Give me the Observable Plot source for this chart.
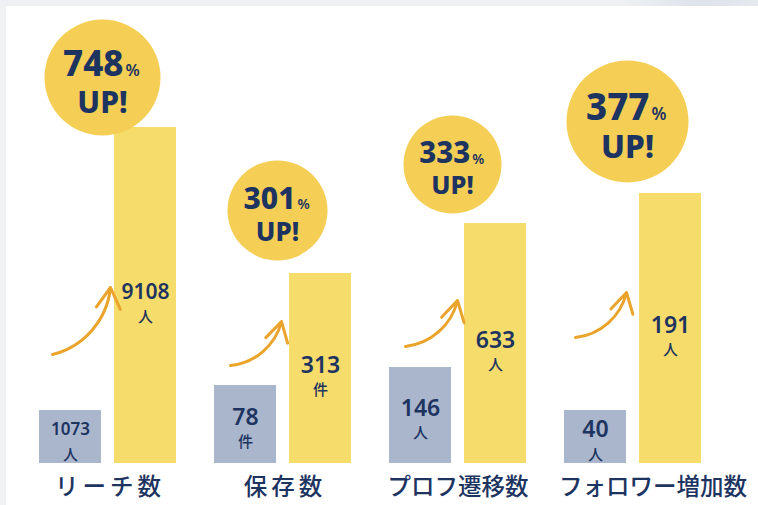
<!DOCTYPE html>
<html>
<head>
<meta charset="utf-8">
<script src="https://cdn.jsdelivr.net/npm/d3@7"></script>
<script src="https://cdn.jsdelivr.net/npm/@observablehq/plot@0.6"></script>
<style>
  html, body { margin: 0; padding: 0; background: #ffffff; }
  #wrap {
    position: relative; width: 758px; height: 505px; overflow: hidden;
    background:
      linear-gradient(to right, #eef0f3 0px, #eef0f3 620px, #dfe3ea 700px, #e6e9ee 758px) top left / 758px 6px no-repeat,
      linear-gradient(#f1f2f4, #f1f2f4) top left / 6px 505px no-repeat,
      #ffffff;
  }
  #wrap svg { display: block; }
</style>
</head>
<body>
<div id="wrap"></div>
<script>
// ---------------- data ----------------
const categories   = ["リーチ数", "保存数", "プロフ遷移数", "フォロワー増加数"];
const beforeValues = [1073, 78, 146, 40];
const afterValues  = [9108, 313, 633, 191];
const units        = ["人", "件", "人", "人"];
const upRates      = [748, 301, 333, 377];
// drawn bar heights (illustrative, not proportional to the values)
const beforeHeights = [53, 78, 96, 53];
const afterHeights  = [336, 190, 240, 270];

// ---------------- styling / layout ----------------
const NAVY = "#1d3461", BLUE = "#aab6cc", YELLOW = "#f6dc6a", BADGE = "#f5cf55", ARROW = "#eaa42c";
const STEP = 175;                 // px per group
const u = px => px / STEP;        // px -> x units
const BAR_W = 62, GAP = 13;
const badgeR   = [58, 50, 49, 61];
const badgeGap = [-8, 13, 10, 11];
const arrowGeo = [ // [startDx, startY, endDx, endY] relative to group start / baseline
  [13, 109, 71, 176], [16, 98, 67, 142], [16, 117, 68, 163], [11, 126, 62, 171]
];
const labelShift = [0, 0, 0, 20];
const numFont = "'Noto Sans', 'Noto Sans CJK JP', sans-serif";

const idx = categories.map((_, i) => i);
const beforeBars = idx.map(i => ({x1: i, x2: i + u(BAR_W), h: beforeHeights[i], v: beforeValues[i], unit: units[i]}));
const afterBars  = idx.map(i => ({x1: i + u(BAR_W + GAP), x2: i + u(2 * BAR_W + GAP), h: afterHeights[i], v: afterValues[i], unit: units[i]}));

const badges = idx.map(i => {
  const r = badgeR[i];
  return {cx: i + u(63), cy: afterHeights[i] + r + badgeGap[i], r, rate: String(upRates[i])};
});

const arrows = idx.map(i => ({
  x1: i + u(arrowGeo[i][0]), y1: arrowGeo[i][1],
  x2: i + u(arrowGeo[i][2]), y2: arrowGeo[i][3]
}));

const labels = idx.map(i => ({x: i + u(BAR_W + GAP / 2 + labelShift[i]), text: categories[i]}));

const chart = Plot.plot({
  width: 758, height: 505,
  marginLeft: 39, marginRight: 19, marginTop: 42, marginBottom: 42,
  x: {domain: [0, 4], axis: null},
  y: {domain: [0, 421], axis: null},
  r: {type: "identity"},
  style: {background: "transparent", fontFamily: "'Noto Sans CJK JP', sans-serif", color: NAVY},
  marks: [
    Plot.rect(beforeBars, {x1: "x1", x2: "x2", y1: 0, y2: "h", fill: BLUE}),
    Plot.rect(afterBars,  {x1: "x1", x2: "x2", y1: 0, y2: "h", fill: YELLOW}),
    Plot.arrow(arrows, {x1: "x1", y1: "y1", x2: "x2", y2: "y2", bend: -35, stroke: ARROW, strokeWidth: 3, headLength: 12}),
    Plot.dot(badges, {x: "cx", y: "cy", r: "r", fill: BADGE, stroke: null}),
    // badge numbers
    Plot.text(badges, {x: d => d.cx + u(d.r * 0.36), y: d => d.cy + d.r * 0.22, text: "rate", textAnchor: "end",
      fontSize: d => d.r * 0.6, fontWeight: 800, fill: NAVY, fontFamily: numFont}),
    Plot.text(badges, {x: d => d.cx + u(d.r * 0.36 + 2), y: d => d.cy + d.r * 0.11, text: () => "%", textAnchor: "start",
      fontSize: d => d.r * 0.28, fontWeight: 600, fill: NAVY, fontFamily: numFont}),
    Plot.text(badges, {x: "cx", y: d => d.cy - d.r * 0.44, text: () => "UP!",
      fontSize: d => d.r * 0.52, fontWeight: 800, fill: NAVY, fontFamily: numFont}),
    // bar values
    Plot.text(beforeBars, {x: d => (d.x1 + d.x2) / 2, y: d => d.h / 2 + 7, text: d => String(d.v),
      fontSize: d => String(d.v).length >= 4 ? 17 : 23, fontWeight: 600, fill: NAVY, fontFamily: numFont}),
    Plot.text(beforeBars, {x: d => (d.x1 + d.x2) / 2, y: d => d.h / 2 - 18, text: "unit",
      fontSize: 15, fontWeight: 500, fill: NAVY}),
    Plot.text(afterBars, {x: d => (d.x1 + d.x2) / 2, y: d => d.h / 2 + 3, text: d => String(d.v),
      fontSize: d => String(d.v).length >= 4 ? 21 : 23, fontWeight: 600, fill: NAVY, fontFamily: numFont}),
    Plot.text(afterBars, {x: d => (d.x1 + d.x2) / 2, y: d => d.h / 2 - 22, text: "unit",
      fontSize: 15, fontWeight: 500, fill: NAVY}),
    // category labels
    Plot.text(labels, {x: "x", y: -24, text: "text", fontSize: 23.5, fontWeight: 500, fill: NAVY})
  ]
});

chart.querySelectorAll("text").forEach(t => {
  if (t.textContent === "リーチ数" || t.textContent === "保存数") {
    t.style.letterSpacing = "4px";
    t.setAttribute("dx", "2");
  }
});

document.getElementById("wrap").appendChild(chart);
</script>
</body>
</html>
